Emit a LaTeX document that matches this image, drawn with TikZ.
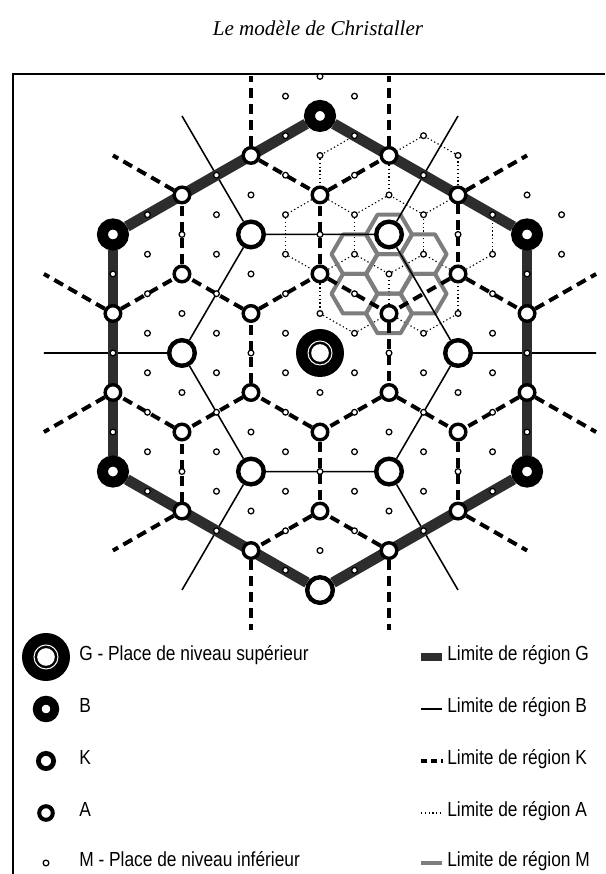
\documentclass[tikz,border=0pt]{standalone}
\usepackage{fontspec}
\setmainfont{Liberation Serif}
\newfontfamily\legendfont{Liberation Sans}[FakeStretch=0.85]
\usetikzlibrary{backgrounds}
\definecolor{bandgrey}{RGB}{45,45,45}
\definecolor{mgrey}{RGB}{125,125,125}
\tikzset{
  place/.style={circle,inner sep=0pt,draw=black,fill=white},
  gplace/.style={circle,inner sep=0pt,fill=black,minimum size=1.2cm},
  bplace/.style={place,line width=0.275cm,minimum size=0.525cm},
  kplace/.style={place,line width=0.11cm,minimum size=0.64cm},
  aplace/.style={place,line width=0.085cm,minimum size=0.39cm},
  mplace/.style={place,line width=0.9pt,minimum size=0.143cm},
  gband/.style={draw=bandgrey,line width=0.27cm},
  bline/.style={line width=1.1pt},
  kline/.style={line width=0.1cm,dash pattern=on 0.25cm off 0.15cm},
  aline/.style={line width=0.8pt,dash pattern=on 0.9pt off 1.8pt},
  mline/.style={draw=mgrey,line width=0.1cm,line join=round},
  legtext/.style={anchor=mid west,inner sep=0pt,font=\legendfont\fontsize{14.5}{17}\selectfont}
}

\begin{document}
\begin{tikzpicture}[x=0.025cm,y=0.025cm]
\useasboundingbox (0,0) rectangle (605,874);
% title and frame
\node[font=\itshape\fontsize{15}{18}\selectfont] (title) at (318,846) {Le modèle de Christaller};
\coordinate (fBL) at (13,0);
\coordinate (fTL) at (13,800);
\coordinate (fTR) at (605,800);
\draw[line width=0.9pt] (fBL) -- (fTL) -- (fTR);

% the network: e1 points up, e2 at 30 degrees
\begin{scope}[shift={(320,521)},x={(0cm,0.9875cm)},y={(0.8625cm,0.49375cm)}]
% G
\node[gplace] (G) at (0,0) {};
\draw[white,line width=0.7pt] (G.center) circle[radius=0.3cm];
\fill[white] (G.center) circle[radius=0.22cm];
% B
\node[bplace] (bN) at (6,0) {};
\node[bplace] (bNE) at (0,6) {};
\node[bplace] (bSE) at (-6,6) {};
\node[kplace] (bS) at (-6,0) {};
\node[bplace] (bSW) at (0,-6) {};
\node[bplace] (bNW) at (6,-6) {};
% K
\node[kplace] (kE) at (-2,4) {};
\node[kplace] (kNE) at (2,2) {};
\node[kplace] (kNW) at (4,-2) {};
\node[kplace] (kW) at (2,-4) {};
\node[kplace] (kSW) at (-2,-2) {};
\node[kplace] (kSE) at (-4,2) {};
% A and M inside the G region
\foreach \i in {-6,...,6}{
  \foreach \j in {-6,...,6}{
    \pgfmathtruncatemacro{\inside}{abs(\i+(\j))<7}
    \pgfmathtruncatemacro{\even}{iseven(abs(\i))*iseven(abs(\j))}
    \pgfmathtruncatemacro{\kpl}{mod(abs(\i-(\j)),6)==0}
    \pgfmathtruncatemacro{\hole}{and(\i==0,\j==3)}
    \ifnum\inside=1
      \ifnum\even=1
        \ifnum\kpl=0 \node[aplace] (p\i-\j) at (\i,\j) {};\fi
      \else
        \ifnum\hole=0 \node[mplace] (p\i-\j) at (\i,\j) {};\fi
      \fi
    \fi
  }
}
% M outside
\foreach \i/\j in {7/0,7/-1,6/1,1/6,0/7,-1/7,4/3,3/4}
  \node[mplace] (p\i-\j) at (\i,\j) {};
% free ends
\foreach \i/\j in {8/-2,8/-6,6/2,2/6,-2/8,-6/8,-8/6,-8/2,-6/-2,-2/-6,2/-8,6/-8}
  \coordinate (q\i-\j) at (\i,\j);
\coordinate (sE) at (-4,8);
\coordinate (sNE) at (4,4);
\coordinate (sNW) at (8,-4);
\coordinate (sW) at (4,-8);
\coordinate (sSW) at (-4,-4);
\coordinate (sSE) at (-8,4);

\begin{scope}[on background layer]
% region A
\foreach \a/\b in {p3-2/p3-1,p3-1/p2-1,p2-1/p1-2,p1-2/p1-3,p1-3/p2-3,p2-3/p3-2,
    p4-3/p4-2,p4-2/p3-2,p2-3/p2-4,p2-4/p3-4,p3-4/p4-3,
    p5-1/p5-0,p5-0/p4-0,p4-0/p3-1,p4-2/p5-1,
    p4-0/p4--1,p4--1/p3--1,p3--1/p2-0,p2-0/p2-1,
    p2-0/p1-0,p1-0/p0-1,p0-1/p0-2,p0-2/p1-2,
    p0-2/p-1-3,p-1-3/p-1-4,p-1-4/p0-4,p0-4/p1-3,
    p0-4/p0-5,p0-5/p1-5,p1-5/p2-4}
  \draw[aline] (\a) -- (\b);
% region M
\foreach \i/\j in {2/2,2/1,1/3,1/2,1/1,0/3,0/2}
  \draw[mline] (\i-1/3,\j+2/3) -- (\i+1/3,\j+1/3) -- (\i+2/3,\j-1/3)
    -- (\i+1/3,\j-2/3) -- (\i-1/3,\j-1/3) -- (\i-2/3,\j+1/3) -- cycle;
% region K
\foreach \a/\b in {p2-0/p0-2,p0-2/p-2-2,p-2-2/p-2-0,p-2-0/p0--2,p0--2/p2--2,p2--2/p2-0,
    p2-4/p0-4,p0-4/p0-2,p2-0/p4-0,p4-0/p4-2,
    p6--2/p4-0,p2--2/p4--4,p4--4/p6--4,
    p0--2/p0--4,p0--4/p2--6,p4--6/p4--4,
    p-2-0/p-4-0,p-4-0/p-4--2,p-2--4/p0--4,
    p-2-2/p-4-4,p-4-4/p-6-4,p-6-2/p-4-0,
    p0-4/p-2-6,p-4-6/p-4-4,
    p6--2/q8--2,p6--4/q8--6,p4-2/q6-2,p2-4/q2-6,p-2-6/q-2-8,p-4-6/q-6-8,
    p-6-4/q-8-6,p-6-2/q-8-2,p-4--2/q-6--2,p-2--4/q-2--6,p2--6/q2--8,p4--6/q6--8}
  \draw[kline] (\a) -- (\b);
% region B
\foreach \a/\b in {kE/kNE,kNE/kNW,kNW/kW,kW/kSW,kSW/kSE,kSE/kE,
    kE/sE,kNE/sNE,kNW/sNW,kW/sW,kSW/sSW,kSE/sSE}
  \draw[bline] (\a) -- (\b);
% region G
\foreach \a/\b in {bN/bNE,bNE/bSE,bSE/bS,bS/bSW,bSW/bNW,bNW/bN}
  \draw[gband] (\a) -- (\b);
\end{scope}
\end{scope}

% legend
\node[gplace] (legG) at (46,217) {};
\draw[white,line width=0.7pt] (legG.center) circle[radius=0.3cm];
\fill[white] (legG.center) circle[radius=0.22cm];
\node[bplace,line width=0.22cm,minimum size=0.44cm] (legB) at (46,165) {};
\node[kplace,line width=0.12cm,minimum size=0.38cm] (legK) at (46,113) {};
\node[aplace,line width=0.1cm,minimum size=0.34cm] (legA) at (46,61) {};
\node[mplace] (legM) at (46,11) {};
\node[legtext] (legGtxt) at (79,217) {G - Place de niveau supérieur};
\node[legtext] (legBtxt) at (79,165) {B};
\node[legtext] (legKtxt) at (79,113) {K};
\node[legtext] (legAtxt) at (79,61) {A};
\node[legtext] (legMtxt) at (79,11) {M - Place de niveau inférieur};

\coordinate (swG1) at (421,217); \coordinate (swG2) at (442,217);
\coordinate (swB1) at (421,165); \coordinate (swB2) at (442,165);
\coordinate (swK1) at (421,113); \coordinate (swK2) at (444,113);
\coordinate (swA1) at (421,61);  \coordinate (swA2) at (442,61);
\coordinate (swM1) at (421,11);  \coordinate (swM2) at (442,11);
\draw[gband,line width=0.2cm] (swG1) -- (swG2);
\draw[bline] (swB1) -- (swB2);
\draw[line width=0.1cm,dash pattern=on 0.16cm off 0.09cm on 0.16cm off 0.09cm on 0.04cm off 1cm] (swK1) -- (swK2);
\draw[aline] (swA1) -- (swA2);
\draw[mline] (swM1) -- (swM2);
\node[legtext] (limG) at (447,217) {Limite de région G};
\node[legtext] (limB) at (447,165) {Limite de région B};
\node[legtext] (limK) at (447,113) {Limite de région K};
\node[legtext] (limA) at (447,61) {Limite de région A};
\node[legtext] (limM) at (447,11) {Limite de région M};
\end{tikzpicture}
\end{document}
